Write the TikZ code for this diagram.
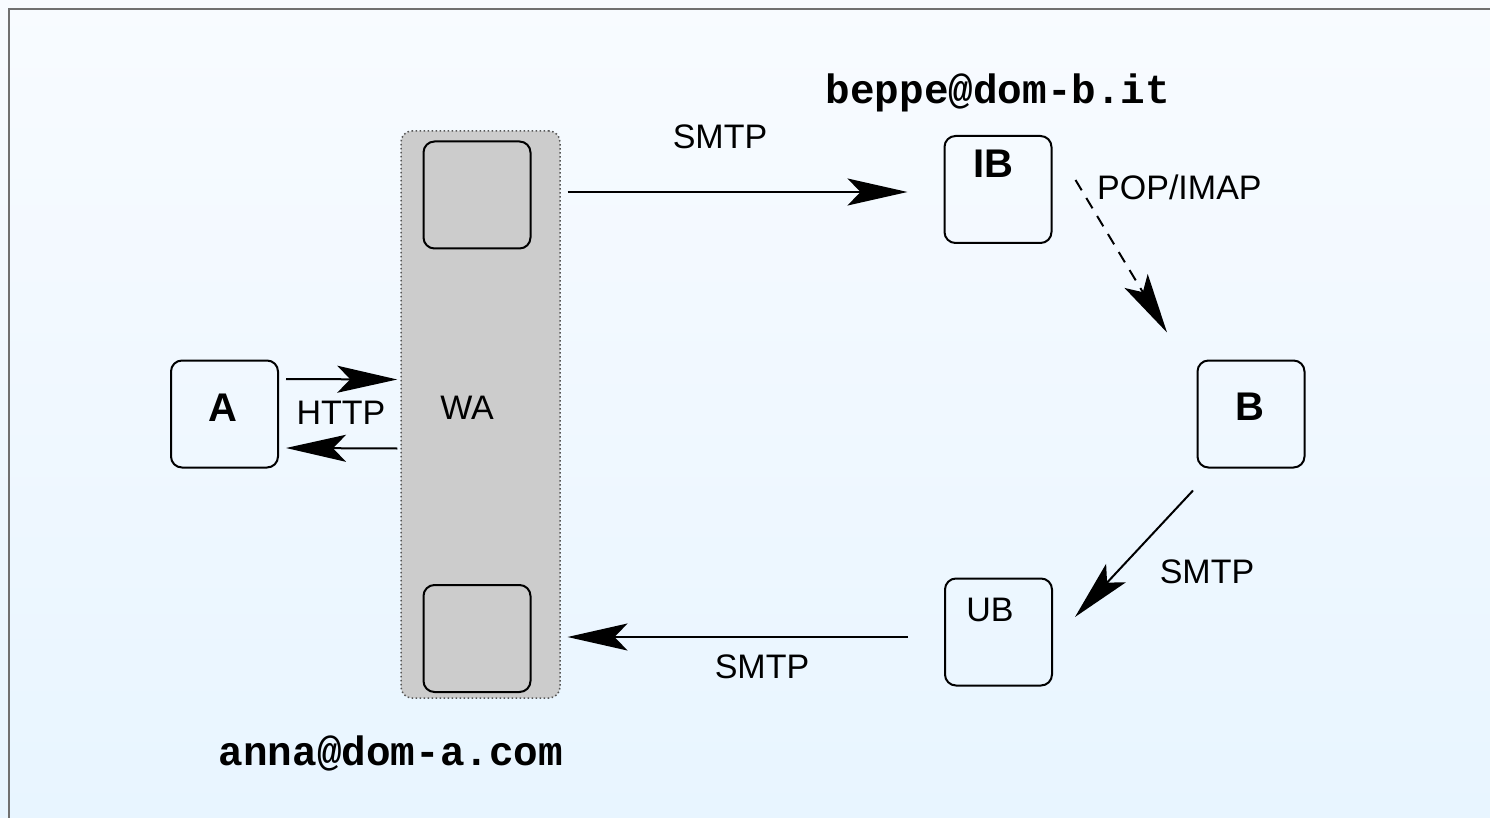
\documentclass[tikz,border=0pt]{standalone}
\usepackage{fontspec}
\setmainfont{Liberation Sans}
\newfontfamily\monob{Liberation Mono}
\usetikzlibrary{arrows.meta,calc}
\definecolor{bgtop}{HTML}{F8FBFF}
\definecolor{bgbot}{HTML}{E8F5FF}
\definecolor{framec}{HTML}{707070}
\definecolor{wafill}{HTML}{CCCCCC}
\definecolor{dotc}{HTML}{555555}
\begin{document}
\begin{tikzpicture}[x=1pt,y=-1pt,
  box/.style={draw=black, line width=2pt, rounded corners=11pt, minimum width=107pt, minimum height=107pt, inner sep=0pt},
  inbox/.style={box, fill=wafill},
  container/.style={draw=dotc, fill=wafill, line width=1.5pt, dash pattern=on 1.5pt off 2.5pt, rounded corners=11pt, minimum width=159pt, minimum height=567pt, inner sep=0pt},
  lab/.style={font=\fontsize{34}{40}\selectfont, inner sep=0pt},
  blab/.style={font=\fontsize{40}{46}\selectfont\bfseries, inner sep=0pt},
  mail/.style={font=\fontsize{41}{46}\selectfont\monob\bfseries, inner sep=0pt},
  arr/.style={line width=2pt, -{Stealth[length=60pt,width=27pt,inset=13pt]}},
  darr/.style={arr, dash pattern=on 12pt off 9pt}]
\shade[top color=bgtop, bottom color=bgbot] (0,0) rectangle (1490,818);
\useasboundingbox (0,0) rectangle (1490,818);
\draw[framec, line width=2pt] (9,818) -- (9,9) -- (1490,9);

% nodes
\node[container] (wa) at (480.5,414.5) {};
\node[inbox] (wt) at (477,195) {};
\node[inbox] (wb) at (477,638.5) {};
\node[box] (a) at (224.5,414) {};
\node[box] (ib) at (998,189.5) {};
\node[box] (b) at (1251,414) {};
\node[box] (ub) at (998.5,632) {};

% node texts
\node[blab] (al) at (222.5,408) {A};
\node[blab] (ibl) at (993.5,164) {IB};
\node[blab] (bl) at (1249.5,407) {B};
\node[lab] (ubl) at (990,610) {UB};
\node[lab] (wal) at (467,408) {WA};

% connectors
\draw[arr] ($(a.east)+(7,-35)$) -- ($(wa.west)+(-3,-35)$);
\draw[arr] ($(wa.west)+(-3,34)$) -- ($(a.east)+(7,34)$);
\draw[arr] ($(wt.east)+(36,-3)$) -- ($(ib.west)+(-36,2.5)$);
\draw[darr] ($(ib.east)+(23,-9.5)$) -- ($(b.north)+(-84,-27)$);
\draw[arr] ($(b.south)+(-58,22)$) -- ($(ub.east)+(22,-15)$);
\draw[arr] ($(ub.west)+(-36,5)$) -- ($(wb.east)+(36,-1.5)$);

% connector labels
\node[lab] (http) at (341,413) {HTTP};
\node[lab] (s1) at (720,137) {SMTP};
\node[lab, anchor=west] (pop) at (1097,187) {POP/IMAP};
\node[lab] (s2) at (1207,572) {SMTP};
\node[lab] (s3) at (762,667) {SMTP};

% addresses
\node[mail] (mb) at (998,93) {beppe@dom-b.it};
\node[mail] (ma) at (391,753) {anna@dom-a.com};
\end{tikzpicture}
\end{document}
